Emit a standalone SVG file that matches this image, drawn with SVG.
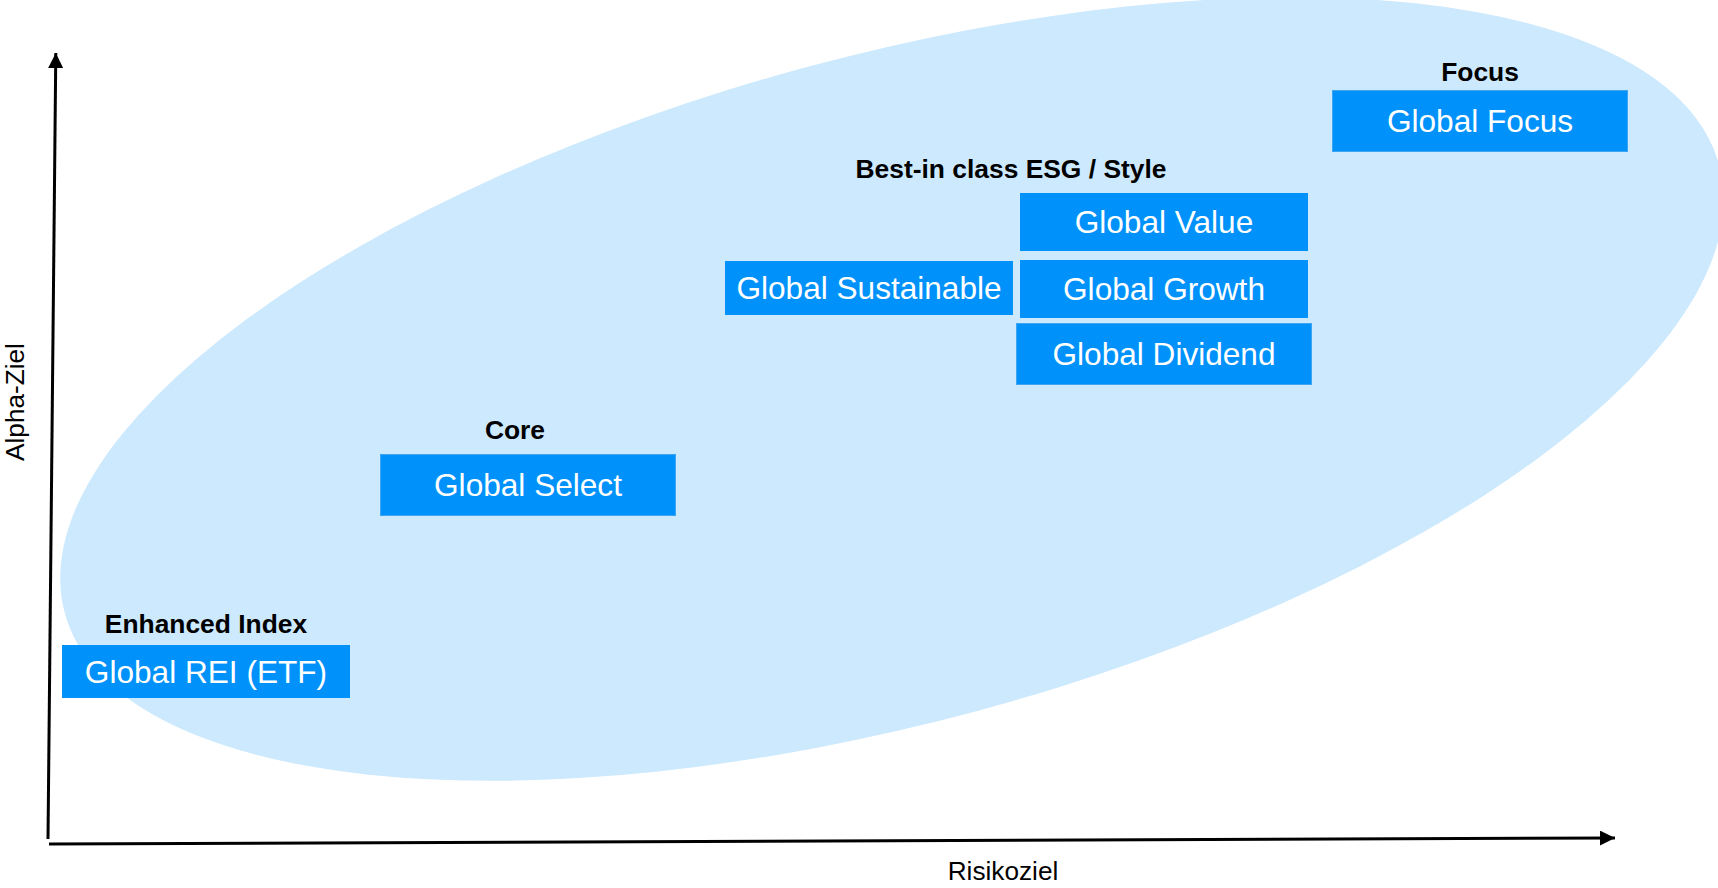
<svg xmlns="http://www.w3.org/2000/svg" width="1718" height="888" viewBox="0 0 1718 888">
<style>
.box{fill:#0092fa}
.box2{fill:#0092fa;stroke:#3da5f2;stroke-width:1}
.bt{font-family:"Liberation Sans",Arial,sans-serif;font-size:31.6px;fill:#ffffff;text-anchor:middle}
.lb{font-family:"Liberation Sans",Arial,sans-serif;font-size:26.4px;font-weight:bold;fill:#000000;text-anchor:middle}
.ax{font-family:"Liberation Sans",Arial,sans-serif;font-size:26.2px;fill:#000000;text-anchor:middle}
.axis{stroke:#000000;stroke-width:3;fill:none}
</style>
<defs>
<marker id="arr" viewBox="0 0 10 10" refX="10" refY="5" markerWidth="5" markerHeight="5" markerUnits="strokeWidth" orient="auto">
<path d="M0,0 L10,5 L0,10 Z" fill="#000000"/>
</marker>
</defs>
<rect x="0" y="0" width="1718" height="888" fill="#ffffff"/>
<ellipse id="zone" cx="892" cy="389" rx="857" ry="333" transform="rotate(-15.15 892 389)" fill="#cce9fd"/>
<g id="connectors">
<line class="axis" x1="48" y1="839" x2="55.8" y2="53" marker-end="url(#arr)"/>
<line class="axis" x1="49" y1="844" x2="1615" y2="838" marker-end="url(#arr)"/>
</g>
<text class="ax" transform="translate(24 402) rotate(-90)">Alpha-Ziel</text>
<text class="ax" x="1003" y="880">Risikoziel</text>
<g id="rei">
<text class="lb" x="206" y="633">Enhanced Index</text>
<rect class="box" x="62" y="645" width="288" height="53"/>
<text class="bt" x="206" y="683">Global REI (ETF)</text>
</g>
<g id="select">
<text class="lb" x="515" y="439">Core</text>
<rect class="box2" x="380.5" y="454.5" width="295" height="61"/>
<text class="bt" x="528" y="496">Global Select</text>
</g>
<g id="esg-label">
<text class="lb" x="1011" y="178">Best-in class ESG / Style</text>
</g>
<g id="sustainable">
<rect class="box" x="725" y="261" width="288" height="54"/>
<text class="bt" x="869" y="299">Global Sustainable</text>
</g>
<g id="value">
<rect class="box" x="1020" y="193" width="288" height="58"/>
<text class="bt" x="1164" y="233">Global Value</text>
</g>
<g id="growth">
<rect class="box" x="1020" y="260" width="288" height="58"/>
<text class="bt" x="1164" y="300">Global Growth</text>
</g>
<g id="dividend">
<rect class="box2" x="1016.5" y="323.5" width="295" height="61"/>
<text class="bt" x="1164" y="365">Global Dividend</text>
</g>
<g id="focus">
<text class="lb" x="1480" y="81">Focus</text>
<rect class="box2" x="1332.5" y="90.5" width="295" height="61"/>
<text class="bt" x="1480" y="132">Global Focus</text>
</g>
</svg>
